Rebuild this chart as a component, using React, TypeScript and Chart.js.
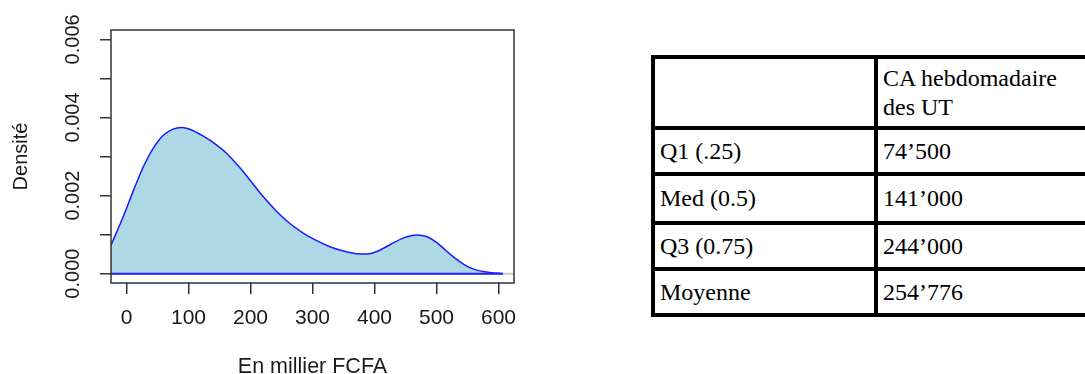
import React, { useEffect, useRef } from "react";
import { Chart, registerables } from "chart.js";

Chart.register(...registerables);

// ---- Data ----
const xValues = [
  -25, -5, 11, 27, 43, 59, 75, 89, 102, 124, 145, 161, 183, 199, 220, 242, 263,
  285, 306, 328, 350, 371, 387, 403, 425, 446, 468, 484, 500, 516, 532, 548,
  565, 586, 607,
];
const densityValues = [
  0.00073, 0.00147, 0.00212, 0.00273, 0.00321, 0.00354, 0.0037, 0.00374,
  0.0037, 0.00352, 0.0033, 0.00309, 0.00271, 0.0024, 0.00198, 0.0016,
  0.00129, 0.00104, 0.00085, 0.00069, 0.00058, 0.00051, 0.0005, 0.00056,
  0.00074, 0.00091, 0.00099, 0.00095, 0.0008, 0.00058, 0.00037, 0.0002,
  0.00009, 0.00003, 0.0,
];
const xTicks = [0, 100, 200, 300, 400, 500, 600];
const yTicks = [0, 0.001, 0.002, 0.003, 0.004, 0.005, 0.006];
const yLabelValues = [0, 0.002, 0.004, 0.006];
const yLabelTexts = ["0.000", "0.002", "0.004", "0.006"];
const xTitle = "En millier FCFA";
const yTitle = "Densité";
const xLimits = [-25, 625];
const yLimits = [-0.00024, 0.00624];

const headerLines = ["CA hebdomadaire", "des UT"];
const rowLabels = ["Q1 (.25)", "Med (0.5)", "Q3 (0.75)", "Moyenne"];
const rowValues = ["74’500", "141’000", "244’000", "254’776"];

const AXIS_FONT = '"Liberation Sans", Arial, sans-serif';

const rLabelsPlugin = {
  id: "rLabels",
  afterDraw(chart: any) {
    const { ctx, chartArea, scales } = chart;
    const { left, right, top, bottom } = chartArea;
    ctx.save();
    // box
    ctx.strokeStyle = "#333";
    ctx.lineWidth = 1.5;
    ctx.strokeRect(left, top, right - left, bottom - top);
    ctx.fillStyle = "#1a1a1a";
    ctx.textAlign = "center";
    ctx.textBaseline = "middle";
    // x tick labels
    ctx.font = "21px " + AXIS_FONT;
    xTicks.forEach((v) => {
      ctx.fillText(String(v), scales.x.getPixelForValue(v), bottom + 35);
    });
    // x title
    ctx.font = "21.5px " + AXIS_FONT;
    ctx.fillText(xTitle, (left + right) / 2, bottom + 84);
    // y tick labels (rotated)
    ctx.font = "20px " + AXIS_FONT;
    yLabelValues.forEach((v, i) => {
      ctx.save();
      ctx.translate(left - 38, scales.y.getPixelForValue(v));
      ctx.rotate(-Math.PI / 2);
      ctx.fillText(yLabelTexts[i], 0, 0);
      ctx.restore();
    });
    // y title
    ctx.save();
    ctx.translate(left - 90, (top + bottom) / 2);
    ctx.rotate(-Math.PI / 2);
    ctx.fillText(yTitle, 0, 0);
    ctx.restore();
    ctx.restore();
  },
};

function DensityChart() {
  const ref = useRef<HTMLCanvasElement | null>(null);
  useEffect(() => {
    if (!ref.current) return;
    const curve = xValues.map((x, i) => ({ x, y: densityValues[i] }));
    const baseBlue = [
      { x: xValues[0], y: 0 },
      { x: xValues[xValues.length - 1], y: 0 },
    ];
    const zeroLine = [
      { x: xLimits[0], y: 0 },
      { x: xLimits[1], y: 0 },
    ];
    const chart = new Chart(ref.current, {
      type: "line",
      data: {
        datasets: [
          {
            data: baseBlue,
            borderColor: "#2020ff",
            borderWidth: 2,
            pointRadius: 0,
            fill: false,
          },
          {
            data: curve,
            borderColor: "#1a1aff",
            borderWidth: 1.5,
            backgroundColor: "#ADD8E6",
            fill: "origin",
            pointRadius: 0,
            cubicInterpolationMode: "monotone",
          },
          {
            data: zeroLine,
            borderColor: "#c8c8c8",
            borderWidth: 2,
            pointRadius: 0,
            fill: false,
          },
        ],
      },
      options: {
        animation: false,
        responsive: false,
        devicePixelRatio: 1,
        parsing: false,
        normalized: true,
        layout: { padding: { left: 0, right: 26, top: 30, bottom: 0 } },
        plugins: {
          legend: { display: false },
          tooltip: { enabled: false },
        },
        scales: {
          x: {
            type: "linear",
            min: xLimits[0],
            max: xLimits[1],
            afterBuildTicks: (s: any) => {
              s.ticks = xTicks.map((v) => ({ value: v }));
            },
            afterFit: (s: any) => {
              s.height = 91;
            },
            ticks: { display: false },
            border: { display: false },
            grid: {
              display: true,
              drawOnChartArea: false,
              drawTicks: true,
              tickLength: 11,
              color: "#333",
              lineWidth: 1.5,
            },
          },
          y: {
            type: "linear",
            min: yLimits[0],
            max: yLimits[1],
            afterBuildTicks: (s: any) => {
              s.ticks = yTicks.map((v) => ({ value: v }));
            },
            afterFit: (s: any) => {
              s.width = 111;
            },
            ticks: { display: false },
            border: { display: false },
            grid: {
              display: true,
              drawOnChartArea: false,
              drawTicks: true,
              tickLength: 11,
              color: "#333",
              lineWidth: 1.5,
            },
          },
        },
      },
      plugins: [rLabelsPlugin],
    } as any);
    return () => chart.destroy();
  }, []);
  return (
    <canvas
      ref={ref}
      width={540}
      height={374}
      style={{ position: "absolute", left: 0, top: 0, width: 540, height: 374 }}
    />
  );
}

const rowHeights = [46, 49, 46, 46];
const borderStyle = "4px solid #000";
const cellFont: React.CSSProperties = {
  fontFamily: '"Liberation Serif", "Times New Roman", serif',
  fontSize: 24,
  lineHeight: "29px",
  color: "#000",
  verticalAlign: "middle",
  textAlign: "left",
  paddingLeft: 5,
  paddingRight: 0,
  paddingTop: 0,
  paddingBottom: 0,
  borderTop: borderStyle,
  borderLeft: borderStyle,
  whiteSpace: "nowrap",
};

function StatsTable() {
  return (
    <table
      style={{
        position: "absolute",
        left: 651,
        top: 55,
        borderCollapse: "separate",
        borderSpacing: 0,
        tableLayout: "fixed",
        width: 439,
        borderRight: borderStyle,
        borderBottom: borderStyle,
      }}
    >
      <colgroup>
        <col style={{ width: 223 }} />
        <col style={{ width: 212 }} />
      </colgroup>
      <tbody>
        <tr style={{ height: 71 }}>
          <td style={cellFont}></td>
          <td style={cellFont}>
            {headerLines[0]}
            <br />
            {headerLines[1]}
          </td>
        </tr>
        {rowLabels.map((lab, i) => (
          <tr key={lab} style={{ height: rowHeights[i] }}>
            <td style={cellFont}>{lab}</td>
            <td style={cellFont}>{rowValues[i]}</td>
          </tr>
        ))}
      </tbody>
    </table>
  );
}

export default function App() {
  return (
    <div
      style={{
        position: "absolute",
        left: 0,
        top: 0,
        width: 1085,
        height: 374,
        overflow: "hidden",
        background: "#fff",
      }}
    >
      <DensityChart />
      <StatsTable />
    </div>
  );
}
